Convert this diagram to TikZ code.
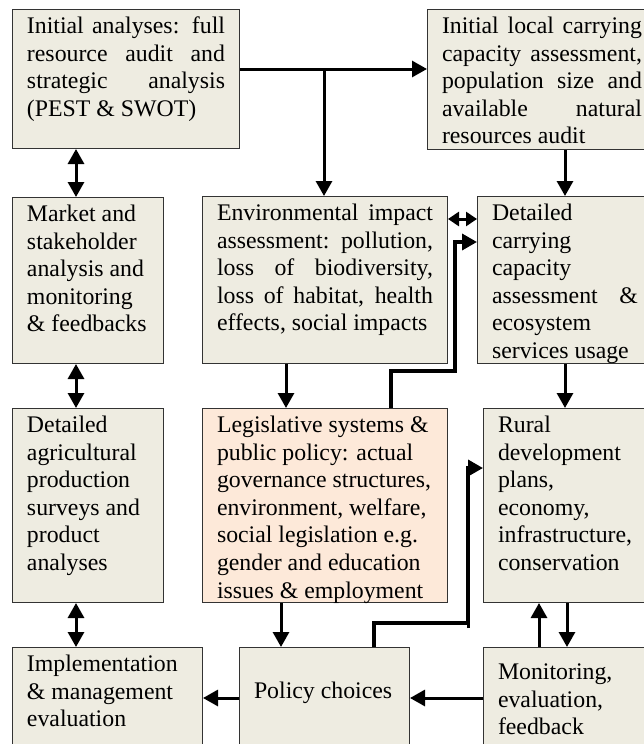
\documentclass[tikz,border=0pt]{standalone}
\usepackage{fontspec}
\setmainfont{Liberation Serif}
\usetikzlibrary{arrows.meta}

\definecolor{tanbg}{HTML}{EEECE1}
\definecolor{peachbg}{HTML}{FDE9D9}

\hyphenpenalty=10000
\exhyphenpenalty=10000
\hbadness=10000

% top-aligned text inside a box of fixed height: [top gap]{width}{height}{text}
\newcommand{\stagetext}[4][4.6]{\parbox[c][#3pt][t]{#2pt}{\vspace*{#1pt}\strut#4}}

\tikzset{
  stage/.style={draw=black!80, line width=1pt, fill=tanbg, anchor=north west,
    inner xsep=14.5pt, inner ysep=0pt, font=\fontsize{23.8pt}{27.6pt}\selectfont},
  lawbox/.style={stage, fill=peachbg},
  flow/.style={line width=3pt, -{Triangle[length=15pt,width=16pt]}},
  twoway/.style={line width=3pt, {Triangle[length=15pt,width=16pt]}-{Triangle[length=15pt,width=16pt]}},
  shortway/.style={line width=3pt, {Triangle[length=11pt,width=14pt]}-{Triangle[length=11pt,width=14pt]}},
  bent/.style={flow, line width=3.5pt},
}

\begin{document}
\begin{tikzpicture}[x=1pt,y=-1pt]
	\useasboundingbox (0,0) rectangle (644,744);
	\fill[white] (0,0) rectangle (644,744);
	\clip (0,0) rectangle (644,744);
	% Top row
	\node[stage] (audit) at (12,9) {\stagetext{198}{139}{Initial analyses: full\linebreak resource audit and\linebreak strategic analysis\linebreak (PEST \& SWOT)}};
	\node[stage] (carry) at (427,9) {\stagetext{200}{140}{Initial local carrying\linebreak capacity assessment,\linebreak population size and\linebreak available natural\linebreak resources audit}};
	% Second row
	\node[stage] (market) at (12,197) {\stagetext{122}{166}{Market and\\ stakeholder\\ analysis and\\ monitoring\\ \& feedbacks}};
	\node[stage] (envimp) at (202,196) {\stagetext{216}{167}{Environmental impact\linebreak assessment: pollution,\linebreak loss of biodiversity,\linebreak loss of habitat, health\linebreak effects, social impacts}};
	\node[stage] (detcarry) at (477,196) {\stagetext{146}{167}{Detailed\linebreak carrying\linebreak capacity\linebreak assessment \&\linebreak ecosystem\linebreak services usage}};
	% Third row
	\node[stage] (agric) at (12,408) {\stagetext{122}{194}{Detailed\\ agricultural\\ production\\ surveys and\\ product\\ analyses}};
	\node[lawbox] (legis) at (202,408) {\stagetext{216}{194}{Legislative systems \&\\ public policy: actual\\ governance structures,\\ environment, welfare,\\ social legislation e.g.\\ gender and education\\ issues \& employment}};
	\node[stage] (rural) at (483,408) {\stagetext{146}{194}{Rural\\ development\\ plans,\\ economy,\\ infrastructure,\\ conservation}};
	% Bottom row
	\node[stage] (impl) at (12,647) {\stagetext{161}{120}{Implementation\\ \& management\\ evaluation}};
	\node[stage] (policy) at (239,647) {\stagetext[31.6]{141}{120}{Policy choices}};
	\node[stage] (monitor) at (483,647) {\stagetext[12.6]{146}{120}{Monitoring,\\ evaluation,\\ feedback}};

	% Columns, rows and bends of the connectors
	\coordinate (split) at (324,69);
	\coordinate (leftcol) at (76,0);
	\coordinate (rightcol) at (565,0);
	\coordinate (midcol) at (286,0);
	\coordinate (lowcol) at (281,0);
	\coordinate (envrow) at (0,219);
	\coordinate (bendA) at (391,371);
	\coordinate (bendB) at (455,242);
	\coordinate (bendC) at (374,623);
	\coordinate (bendD) at (468,468);
	\coordinate (bendE) at (468,628);
	\coordinate (upcol) at (539,0);
	\coordinate (downcol) at (567,0);
	\coordinate (backrow) at (0,698);

	% Arrows out of the initial analyses
	\draw[flow] (audit.east |- split) -- (carry.west |- split);
	\draw[flow] (split) -- (envimp.north -| split);
	\draw[flow] (carry.south -| rightcol) -- (detcarry.north -| rightcol);
	% Left column
	\draw[twoway] (audit.south -| leftcol) -- (market.north -| leftcol);
	\draw[twoway] (market.south -| leftcol) -- (agric.north -| leftcol);
	\draw[twoway] (agric.south -| leftcol) -- (impl.north -| leftcol);
	% Middle and right
	\draw[shortway] (envimp.east |- envrow) -- (detcarry.west |- envrow);
	\draw[flow] (envimp.south -| midcol) -- (legis.north -| midcol);
	\draw[bent] (legis.north -| bendA) -- (bendA) -| (bendB) -- (detcarry.west |- bendB);
	\draw[flow] (detcarry.south -| rightcol) -- (rural.north -| rightcol);
	\draw[flow] (legis.south -| lowcol) -- (policy.north -| lowcol);
	\draw[bent] (policy.north -| bendC) -- (bendC) -| (bendD) -- (rural.west |- bendD);
	\draw[line width=3pt] (bendE) -- (bendD |- bendC);
	% Feedback loop at the bottom
	\draw[flow] (monitor.north -| upcol) -- (rural.south -| upcol);
	\draw[flow] (rural.south -| downcol) -- (monitor.north -| downcol);
	\draw[flow] (monitor.west |- backrow) -- (policy.east |- backrow);
	\draw[flow] (policy.west |- backrow) -- (impl.east |- backrow);
\end{tikzpicture}
\end{document}
